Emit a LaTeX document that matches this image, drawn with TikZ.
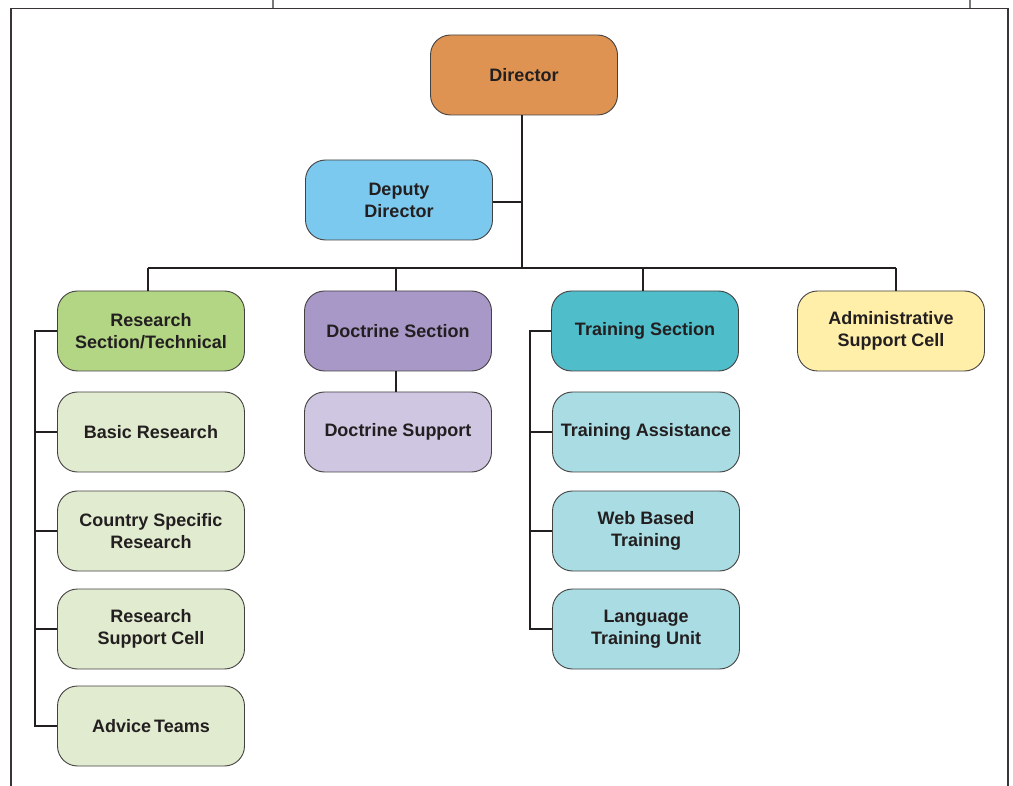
\documentclass[tikz,border=0pt]{standalone}
\usepackage{fontspec}
\setmainfont{Liberation Sans}
\definecolor{inkgrey}{HTML}{231F20}
\definecolor{dirorange}{HTML}{DE9353}
\definecolor{depblue}{HTML}{7CC9EF}
\definecolor{resgreen}{HTML}{B3D685}
\definecolor{subgreen}{HTML}{E1EBCF}
\definecolor{docpurple}{HTML}{A898C8}
\definecolor{subpurple}{HTML}{CFC6E2}
\definecolor{trnteal}{HTML}{50BDCA}
\definecolor{subteal}{HTML}{A9DCE3}
\definecolor{admyellow}{HTML}{FFEFA8}
\tikzset{
  unit/.style={draw=inkgrey!85,line width=0.9pt,rounded corners=20pt,
    minimum width=187pt,minimum height=80pt,align=center,text=inkgrey,
    font=\fontsize{18}{22}\selectfont\bfseries},
  link/.style={draw=inkgrey,line width=1.1pt},
  frame/.style={draw=inkgrey!90,line width=1.5pt}
}
\begin{document}
\begin{tikzpicture}[x=1pt,y=-1pt]
			\useasboundingbox (0,0) rectangle (1013,786);
			% page frame
			\draw[frame] (11,786) -- (11,8.5) -- (1008,8.5) -- (1008,786);
			\draw[frame,draw=inkgrey!60] (273,0) -- (273,8.5);
			\draw[frame,draw=inkgrey!60] (970,0) -- (970,8.5);
			% top
			\node[unit,fill=dirorange] (dir) at (524,75) {Director};
			\node[unit,fill=depblue] (dep) at (399,200) {Deputy\\Director};
			% sections
			\node[unit,fill=resgreen] (res) at (151,331) {Research\\Section/Technical};
			\node[unit,fill=docpurple] (doc) at (398,331) {Doctrine Section};
			\node[unit,fill=trnteal] (trn) at (645,331) {Training Section};
			\node[unit,fill=admyellow] (adm) at (891,331) {Administrative\\Support Cell};
			% research units
			\node[unit,fill=subgreen] (basic) at (151,432) {Basic Research};
			\node[unit,fill=subgreen] (ctry) at (151,531) {Country Specific\\Research};
			\node[unit,fill=subgreen] (rsup) at (151,629) {Research\\Support Cell};
			\node[unit,fill=subgreen] (adv) at (151,726) {Advice\,Teams};
			% doctrine unit
			\node[unit,fill=subpurple] (dsup) at (398,432) {Doctrine Support};
			% training units
			\node[unit,fill=subteal] (tass) at (646,432) {Training Assistance};
			\node[unit,fill=subteal] (web) at (646,531) {Web Based\\Training};
			\node[unit,fill=subteal] (lang) at (646,629) {Language\\Training Unit};
			%			connectors
			\coordinate (bus) at (522,268);
			\coordinate (resrail) at (35,331);
			\coordinate (trnrail) at (530,331);
			\path[link] (dir.south -| bus) -- (bus);
			\path[link] ([yshift=-2pt]dep.east) -- ([yshift=-2pt]dep.east -| bus);
			\path[link] ([xshift=-3pt]res.north |- bus) -- ([xshift=5pt]adm.north |- bus);
			\foreach \sec/\dx in {res/-3,doc/-2,trn/-2,adm/5}
				\path[link] ([xshift=\dx pt]\sec.north) -- ([xshift=\dx pt]\sec.north |- bus);
			\path[link] ([xshift=-2pt]doc.south) -- ([xshift=-2pt]dsup.north);
			\path[link] (res.west) -- (resrail) -- (resrail |- adv.west) -- (adv.west);
			\foreach \sub in {basic,ctry,rsup}
				\path[link] (resrail |- \sub.west) -- (\sub.west);
			\path[link] (trn.west) -- (trnrail) -- (trnrail |- lang.west) -- (lang.west);
			\foreach \sub in {tass,web}
				\path[link] (trnrail |- \sub.west) -- (\sub.west);
		\end{tikzpicture}
\end{document}
